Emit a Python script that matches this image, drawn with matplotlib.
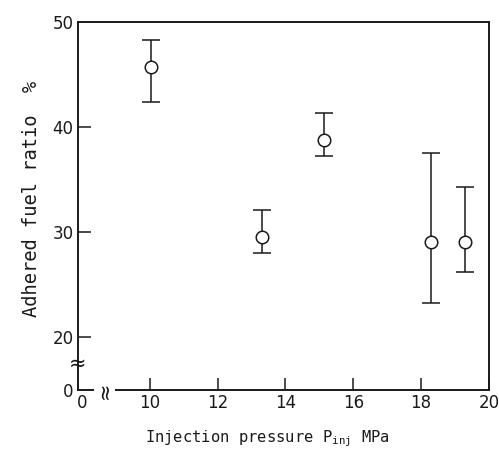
import numpy as np
import matplotlib
matplotlib.use("Agg")
import matplotlib.pyplot as plt

# values
pressure = [10.05, 13.3, 15.15, 18.3, 19.3]          # MPa
ratio_mean = [45.7, 29.5, 38.8, 29.1, 29.1]          # %
ratio_upper = [48.3, 32.1, 41.3, 37.5, 34.3]
ratio_lower = [42.4, 28.0, 37.2, 23.3, 26.2]

x_ticks = [0, 10, 12, 14, 16, 18, 20]
y_ticks = [0, 20, 30, 40, 50]

plt.rcParams["mathtext.fontset"] = "custom"
plt.rcParams["mathtext.rm"] = "DejaVu Sans Mono"
ink = "#1a1a1a"


# broken axes: 0-10 MPa and 0-20 % are squeezed
def fwd_x(x):
    x = np.asarray(x, dtype=float)
    return np.where(x < 10, 8 + 0.2 * x, x)


def inv_x(t):
    t = np.asarray(t, dtype=float)
    return np.where(t < 10, (t - 8) / 0.2, t)


def fwd_y(y):
    y = np.asarray(y, dtype=float)
    return np.where(y < 20, 15 + 0.25 * y, y)


def inv_y(t):
    t = np.asarray(t, dtype=float)
    return np.where(t < 20, (t - 15) / 0.25, t)


fig = plt.figure(figsize=(4.99, 4.54), dpi=100)
ax = fig.add_axes([0.156, 0.141, 0.824, 0.811])
ax.set_xscale("function", functions=(fwd_x, inv_x))
ax.set_yscale("function", functions=(fwd_y, inv_y))

mean = np.array(ratio_mean)
yerr = [mean - np.array(ratio_lower), np.array(ratio_upper) - mean]
ax.errorbar(pressure, ratio_mean, yerr=yerr, fmt="o", ms=9, mfc="white",
            mec=ink, mew=1.1, ecolor=ink, elinewidth=1.1, capsize=6.5,
            capthick=1.1, color=ink)

ax.set_xlim(-0.6, 20)
ax.set_ylim(0, 50)

ax.set_xticks(x_ticks)
ax.set_xticklabels([str(v) for v in x_ticks])
ax.set_yticks(y_ticks)
ax.set_yticklabels([str(v) for v in y_ticks])
ax.tick_params(direction="in", length=9, width=1.1, color=ink,
               labelsize=12, labelcolor=ink, pad=3)
# the zero ticks sit in the corner, hide their marks
ax.xaxis.get_major_ticks()[0].tick1line.set_visible(False)
ax.yaxis.get_major_ticks()[0].tick1line.set_visible(False)
ax.yaxis.get_major_ticks()[-1].tick1line.set_visible(False)

for side in ["left", "right", "top", "bottom"]:
    ax.spines[side].set_color(ink)
    ax.spines[side].set_linewidth(1.4)

# break marks on both axes
ax.text(-0.6, 10, "≈", transform=ax.transData, ha="center", va="center",
        fontsize=15, color=ink, clip_on=False)
ax.text(3.3, 0, "≈", transform=ax.transData, ha="center", va="center",
        fontsize=15, rotation=90, color=ink, clip_on=False,
        bbox=dict(fc="white", ec="none", pad=0.5))

ax.set_xlabel("Injection pressure P$_{\\rm inj}$ MPa", fontfamily="DejaVu Sans Mono",
              fontsize=11.2, color=ink)
ax.xaxis.set_label_coords(0.46, -0.105)
ax.set_ylabel("Adhered fuel ratio  %", fontfamily="DejaVu Sans Mono",
              fontsize=13.5, color=ink)
ax.yaxis.set_label_coords(-0.09, 0.52)

fig.savefig("out.png", dpi=100)
